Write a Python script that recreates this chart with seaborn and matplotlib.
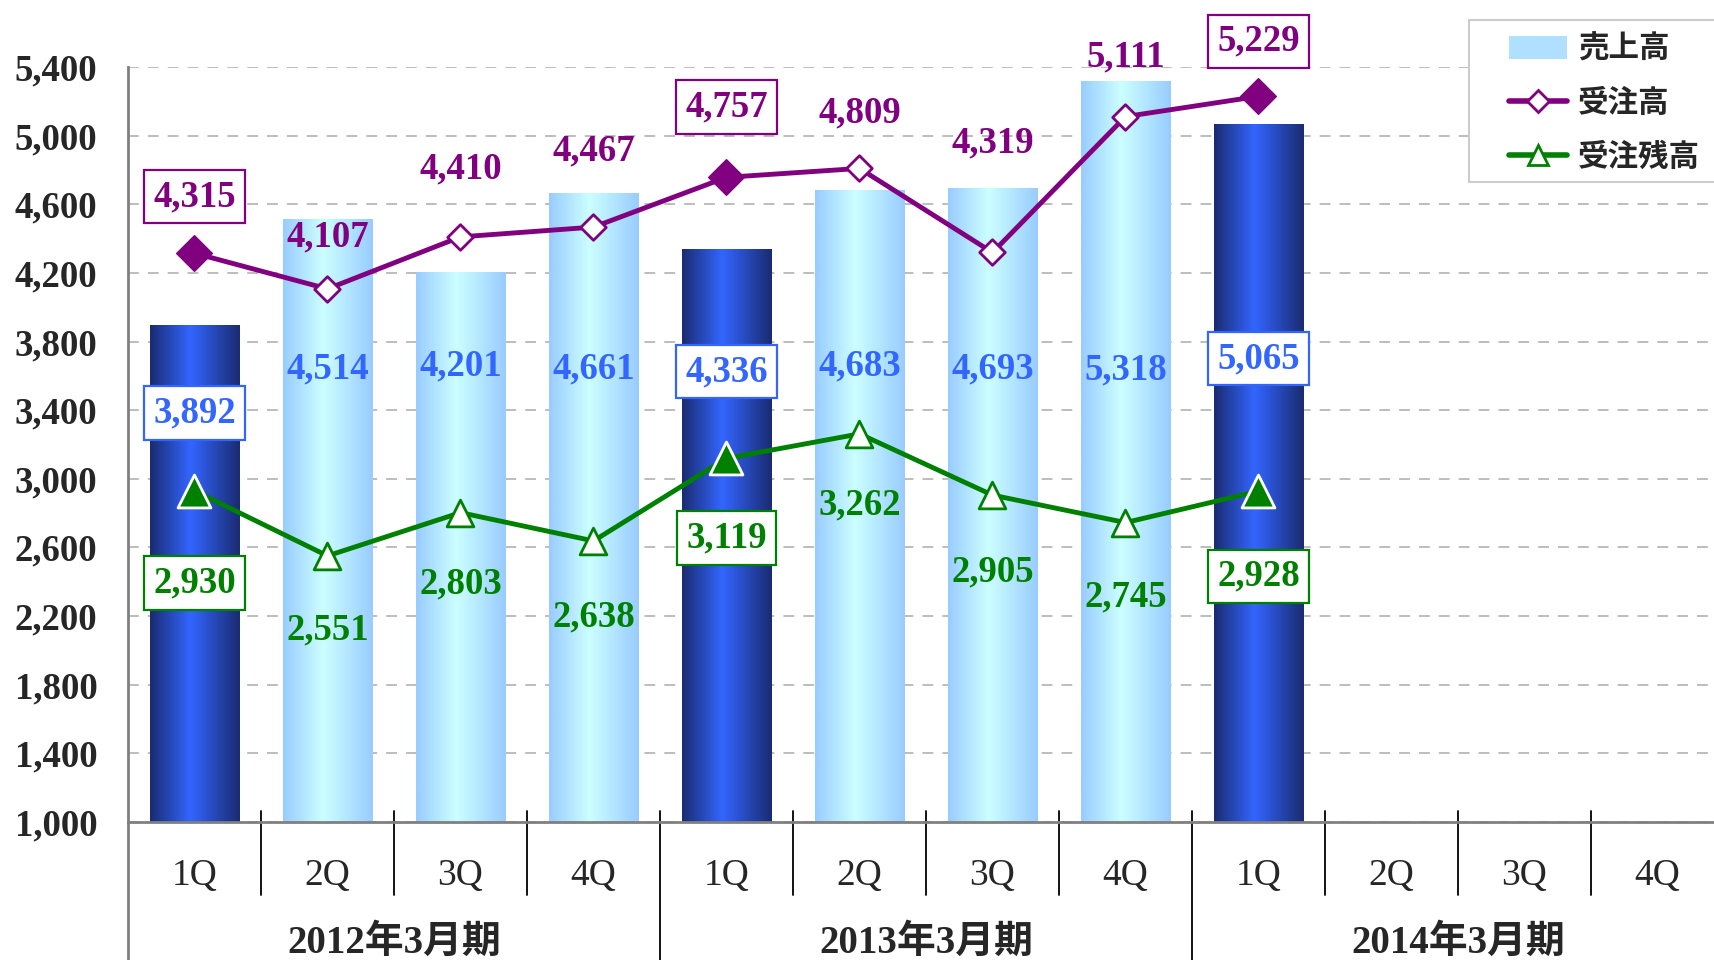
import numpy as np
import pandas as pd
import matplotlib
matplotlib.use("Agg")
import matplotlib.pyplot as plt
import matplotlib.transforms as mtransforms
from matplotlib.colors import LinearSegmentedColormap
from matplotlib.lines import Line2D
from matplotlib.patches import Patch, Rectangle
from matplotlib.font_manager import FontProperties
import seaborn as sns

# ---------------- data ----------------
quarters = ["1Q", "2Q", "3Q", "4Q"] * 3
periods = ["2012年3月期", "2013年3月期", "2014年3月期"]
sales = [3892, 4514, 4201, 4661, 4336, 4683, 4693, 5318, 5065]      # 売上高
orders = [4315, 4107, 4410, 4467, 4757, 4809, 4319, 5111, 5229]     # 受注高
backlog = [2930, 2551, 2803, 2638, 3119, 3262, 2905, 2745, 2928]    # 受注残高
yticks = [1000, 1400, 1800, 2200, 2600, 3000, 3400, 3800, 4200, 4600, 5000, 5400]

# label anchor heights (data units)
sales_label_y = [3384, 3643, 3657, 3643, 3624, 3657, 3643, 3637, 3701]
orders_label_y = [4644, 4408, 4803, 4911, 5166, 5134, 4956, 5459, 5549]
backlog_label_y = [2394, 2120, 2388, 2197, 2655, 2846, 2458, 2311, 2432]

# ---------------- style ----------------
sns.set_style("white")
plt.rcParams["font.family"] = ["Liberation Serif", "Noto Sans CJK JP"]

PURPLE = "#800080"
GREEN = "#008000"
BLUE_TXT = "#3366ff"

W, H = 1715, 960
fig = plt.figure(figsize=(W / 100, H / 100), dpi=100)
ax_left, ax_right_px = 128, 128 + 12 * 133
ax_top, ax_bot = 67, 822
ax = fig.add_axes([ax_left / W, (H - ax_bot) / H, (ax_right_px - ax_left) / W, (ax_bot - ax_top) / H])

n = len(sales)
idx = np.arange(n)
first_q = np.array([i % 4 == 0 for i in range(n)])
df = pd.DataFrame({"pos": idx, "sales": sales, "orders": orders, "backlog": backlog})

# bars
sns.barplot(data=df, x="pos", y="sales", native_scale=True, width=0.67,
            color="#aad4ff", ax=ax, zorder=2)

dark_cmap = LinearSegmentedColormap.from_list("dark", [(0, "#1a2b70"), (0.45, "#3366ff"), (1, "#1a2b70")])
light_cmap = LinearSegmentedColormap.from_list("light", [(0, "#99ccff"), (0.45, "#ccffff"), (1, "#99ccff")])
grad = np.linspace(0, 1, 256).reshape(1, -1)
bars = [p for p in ax.patches]
for i, p in enumerate(bars):
    x0, y0 = p.get_x(), p.get_y()
    w, h = p.get_width(), p.get_height()
    cm = dark_cmap if first_q[i] else light_cmap
    ax.imshow(grad, extent=[x0, x0 + w, y0, y0 + h], aspect="auto", cmap=cm,
              zorder=2, origin="lower", interpolation="bilinear")
    p.set_visible(False)

# lines
sns.lineplot(data=df, x="pos", y="orders", color=PURPLE, lw=3.5, ax=ax, zorder=4)
sns.lineplot(data=df, x="pos", y="backlog", color=GREEN, lw=3.5, ax=ax, zorder=4)

# markers
sns.scatterplot(data=df[first_q], x="pos", y="orders", marker="D", s=330, color=PURPLE,
                edgecolor=PURPLE, linewidth=1, ax=ax, zorder=5, legend=False)
sns.scatterplot(data=df[~first_q], x="pos", y="orders", marker="D", s=170, color="white",
                edgecolor=PURPLE, linewidth=2, ax=ax, zorder=5, legend=False)
sns.scatterplot(data=df[first_q], x="pos", y="backlog", marker="^", s=560, color=GREEN,
                edgecolor="white", linewidth=2, ax=ax, zorder=5, legend=False)
sns.scatterplot(data=df[~first_q], x="pos", y="backlog", marker="^", s=370, color="white",
                edgecolor=GREEN, linewidth=2, ax=ax, zorder=5, legend=False)

# data labels
num_font = dict(fontsize=26.5, fontweight="bold", ha="center", va="center", zorder=6, clip_on=False)
for i in range(n):
    for vals, ys, col in ((sales, sales_label_y, BLUE_TXT),
                          (orders, orders_label_y, PURPLE),
                          (backlog, backlog_label_y, GREEN)):
        kw = dict(num_font)
        if first_q[i]:
            kw["bbox"] = dict(boxstyle="square,pad=0.25", fc="white", ec=col, lw=1.6)
        ax.text(i, ys[i], f"{vals[i]:,}", color=col, **kw)

# axes
ax.set_xlim(-0.5, 11.5)
ax.set_ylim(1000, 5400)
ax.set_yticks(yticks)
ax.set_yticklabels([f"{v:,}" for v in yticks], fontsize=26.5, fontweight="bold")
ax.tick_params(axis="y", direction="in", length=10, width=1.5, color="#333333", pad=22)
ax.set_xticks([])
ax.set_xlabel("")
ax.set_ylabel("")
ax.set_axisbelow(True)
ax.yaxis.grid(True, linestyle=(0, (6, 5)), color="#b8b8b8", lw=1.3)
for s in ("top", "right"):
    ax.spines[s].set_visible(False)
for s in ("left", "bottom"):
    ax.spines[s].set_color("#808080")
    ax.spines[s].set_linewidth(2)
    ax.spines[s].set_zorder(3)

# category axis (two levels)
trans = mtransforms.blended_transform_factory(ax.transData, ax.transAxes)
px = 1.0 / (ax_bot - ax_top)
y_sep_top = 11 * px
y_sep_short = -(895 - ax_bot) * px
y_sep_long = -(960 - ax_bot) * px
for k in range(1, 12):
    yb = y_sep_long if k % 4 == 0 else y_sep_short
    ax.plot([k - 0.5, k - 0.5], [y_sep_top, yb], color="black", lw=1.3, transform=trans, clip_on=False)
ax.plot([-0.5, -0.5], [0, y_sep_long], color="#808080", lw=2, transform=trans, clip_on=False)

for k, q in enumerate(quarters):
    ax.text(k, -(876 - ax_bot) * px, q, transform=trans, ha="center", va="center",
            fontsize=27, clip_on=False)
for j, p in enumerate(periods):
    ax.text(4 * j + 1.5, -(943 - ax_bot) * px, p, transform=trans, ha="center", va="center",
            fontsize=28, fontweight="bold", clip_on=False)

# legend frame (drawn separately so that the padding matches)
fig.patches.append(Rectangle((1469 / W, 1 - 182 / H), 260 / W, 162 / H, transform=fig.transFigure,
                             facecolor="white", edgecolor="#cccccc", lw=1.5, zorder=9))

handles = [
    Patch(facecolor="#b0e0ff", edgecolor="none"),
    Line2D([0], [0], color=PURPLE, lw=4, marker="D", markersize=11, markerfacecolor="white",
           markeredgecolor=PURPLE, markeredgewidth=2),
    Line2D([0], [0], color=GREEN, lw=4, marker="^", markersize=15, markerfacecolor="white",
           markeredgecolor=GREEN, markeredgewidth=2),
]
labels = ["売上高", "受注高", "受注残高"]
leg = fig.legend(handles, labels, loc="upper left", bbox_to_anchor=(1509 / W, 1 - 33 / H),
                 bbox_transform=fig.transFigure, frameon=False,
                 prop=FontProperties(family=["Noto Sans CJK JP"], weight="bold", size=22),
                 handlelength=1.9, handleheight=0.8, handletextpad=0.35, labelspacing=0.72,
                 borderpad=0, borderaxespad=0)
leg.set_zorder(10)

fig.savefig("out.png", dpi=100)
